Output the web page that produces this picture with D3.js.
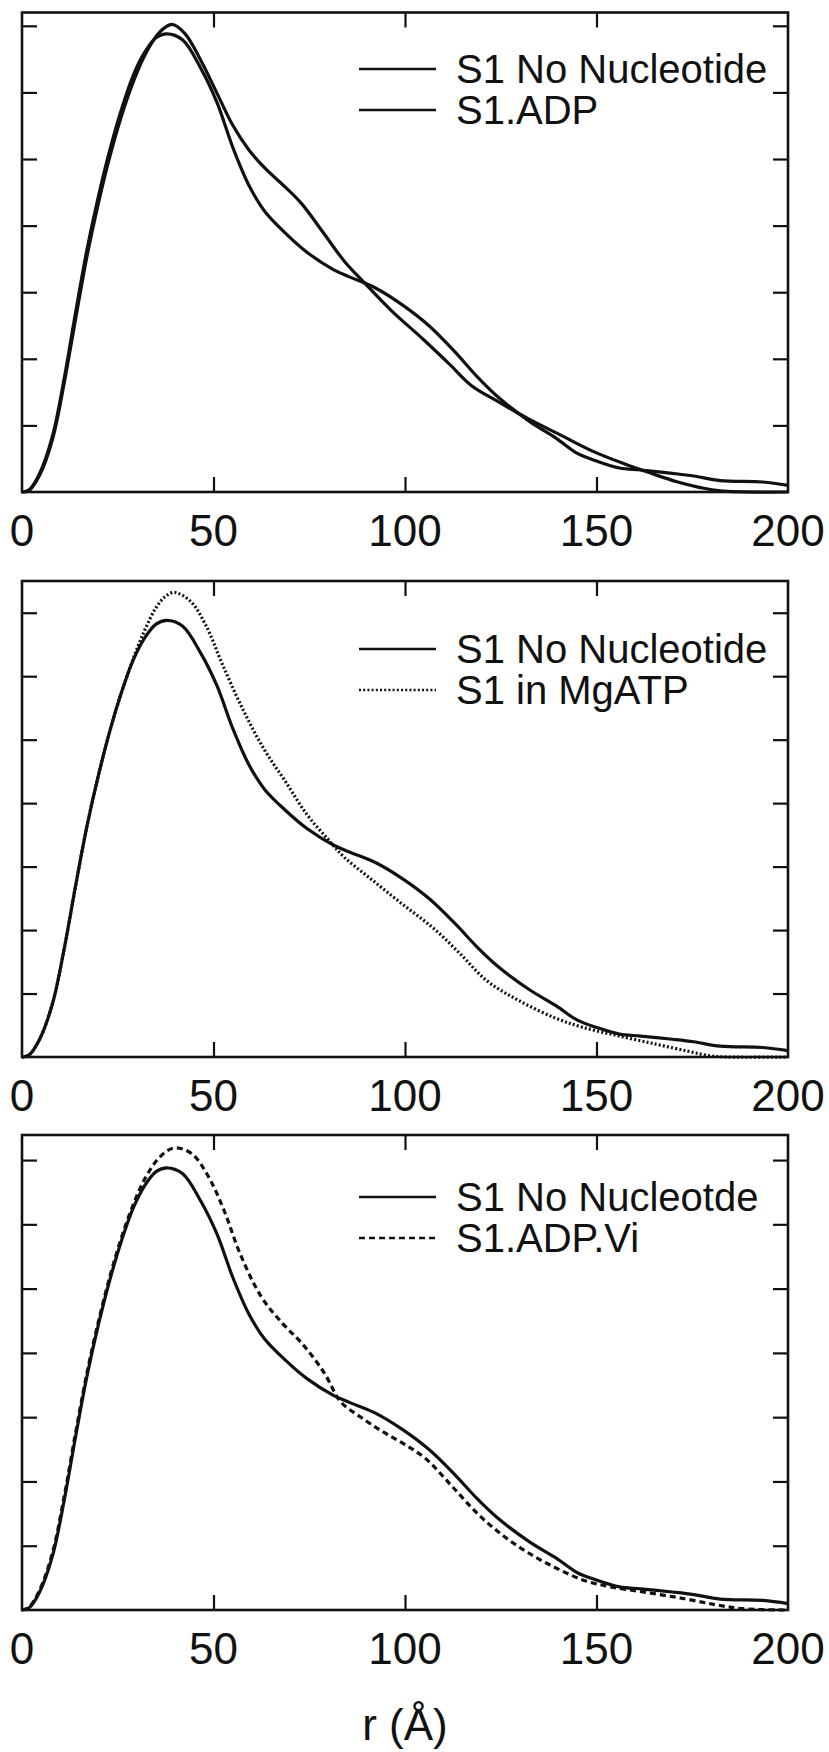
<!DOCTYPE html>
<html>
<head>
<meta charset="utf-8">
<script src="https://cdn.jsdelivr.net/npm/d3@7"></script>
<style>
  html, body { margin: 0; padding: 0; background: #fff; }
  svg text { font-family: Arial, "Liberation Sans", sans-serif; fill: #111; }
</style>
</head>
<body>
<svg id="chart" width="829" height="1752"></svg>
<script>
// pair distance distributions P(r), in units of the y tick spacing
var rNoNuc = [0, 1.8, 4.6, 8, 11, 14, 17, 20, 23, 26, 29, 32, 35, 37.8, 41.9, 46.7, 50.9, 55, 59.2, 63.3, 68.9, 74.4, 81.3, 85.5, 92.4, 99.3, 106.2, 113.1, 118.7, 124.2, 132.5, 139.4, 145, 149.8, 156, 161.5, 169.8, 175.4, 182.3, 193.4, 200];
var pNoNuc = [0, 0.03, 0.28, 0.85, 1.7, 2.7, 3.65, 4.45, 5.15, 5.75, 6.25, 6.6, 6.82, 6.88, 6.79, 6.36, 5.85, 5.18, 4.61, 4.22, 3.88, 3.60, 3.34, 3.23, 3.06, 2.81, 2.50, 2.10, 1.74, 1.43, 1.06, 0.81, 0.58, 0.47, 0.36, 0.33, 0.28, 0.24, 0.17, 0.15, 0.10];

var rAdp = [0, 1.8, 4.6, 8, 11, 14, 17, 20, 23, 26, 29, 32, 35, 37.2, 39.3, 42.6, 46.7, 50.9, 55, 59.2, 63.3, 68.9, 73, 78.6, 84.1, 89.6, 96.5, 104.8, 111.6, 117.3, 124.2, 132.5, 140.8, 149.1, 157.4, 164.3, 171.2, 176.8, 182.3, 200];
var pAdp = [0, 0.02, 0.25, 0.8, 1.63, 2.6, 3.55, 4.35, 5.05, 5.65, 6.15, 6.55, 6.84, 6.97, 7.02, 6.88, 6.48, 5.99, 5.51, 5.14, 4.87, 4.57, 4.33, 3.90, 3.47, 3.13, 2.72, 2.29, 1.92, 1.60, 1.36, 1.09, 0.85, 0.61, 0.42, 0.28, 0.15, 0.07, 0.016, 0];

var rAtp = [0, 1.8, 4.6, 8, 11, 14, 17, 20, 23, 26, 29, 32, 35, 37.5, 39.8, 44, 48.1, 52.3, 57.8, 63.3, 68.9, 74.4, 79.9, 84.1, 91, 99.3, 107.6, 114.5, 121.4, 129.7, 139.4, 146.3, 156, 165.7, 174, 179.5, 184, 200];
var pAtp = [0, 0.03, 0.28, 0.85, 1.7, 2.7, 3.65, 4.45, 5.15, 5.75, 6.27, 6.72, 7.08, 7.26, 7.32, 7.18, 6.79, 6.19, 5.46, 4.84, 4.33, 3.82, 3.43, 3.15, 2.81, 2.41, 2.02, 1.62, 1.20, 0.89, 0.61, 0.47, 0.33, 0.20, 0.09, 0.02, 0, 0];

var rVi = [0, 1.8, 4.6, 8, 11, 14, 17, 20, 23, 26, 29, 32, 35, 37.8, 40.4, 44.5, 48.7, 52.8, 56.9, 62.5, 68, 73.5, 79, 83.2, 88.7, 94.3, 99.8, 105.3, 112.2, 119.1, 126, 133, 139.9, 146.8, 153.7, 163.4, 173, 181.3, 188.2, 200];
var pVi = [0, 0.04, 0.31, 0.9, 1.76, 2.76, 3.7, 4.5, 5.2, 5.8, 6.3, 6.7, 6.98, 7.14, 7.19, 7.09, 6.74, 6.21, 5.55, 4.87, 4.46, 4.12, 3.68, 3.24, 2.99, 2.77, 2.58, 2.36, 1.93, 1.49, 1.14, 0.86, 0.64, 0.46, 0.36, 0.27, 0.175, 0.08, 0.02, 0];

var xTicks = [0, 50, 100, 150, 200];
var yTicks = [1, 2, 3, 4, 5, 6, 7];
var legendNames = [
  ["S1 No Nucleotide", "S1.ADP"],
  ["S1 No Nucleotide", "S1 in MgATP"],
  ["S1 No Nucleotde", "S1.ADP.Vi"]
];
var xLabel = "r (\u00C5)";

function zip(rs, ps) {
  return rs.map(function(r, i) { return { r: r, p: ps[i] }; });
}

// layout of the three stacked panels
var panels = [
  { top: 12.5, bottom: 492, yMax: 7.2, legendY: 69,
    series: [{ d: zip(rNoNuc, pNoNuc), dash: null }, { d: zip(rAdp, pAdp), dash: null }] },
  { top: 581, bottom: 1057, yMax: 7.5, legendY: 649,
    series: [{ d: zip(rNoNuc, pNoNuc), dash: null }, { d: zip(rAtp, pAtp), dash: "2,2.2" }] },
  { top: 1135, bottom: 1610, yMax: 7.39, legendY: 1197,
    series: [{ d: zip(rNoNuc, pNoNuc), dash: null }, { d: zip(rVi, pVi), dash: "6,4" }] }
];

var svg = d3.select("#chart");
svg.append("rect").attr("width", 829).attr("height", 1752).attr("fill", "#fff");

var x = d3.scaleLinear().domain([0, 200]).range([22, 788]);
var tickLen = 15;

panels.forEach(function(panel, pi) {
  var y = d3.scaleLinear().domain([0, panel.yMax]).range([panel.bottom, panel.top]);
  var g = svg.append("g");

  // inward ticks on all four sides
  g.append("g").attr("transform", "translate(0," + panel.bottom + ")")
    .call(d3.axisTop(x).tickValues([50, 100, 150]).tickSize(tickLen).tickFormat(""));
  g.append("g").attr("transform", "translate(0," + panel.top + ")")
    .call(d3.axisBottom(x).tickValues([50, 100, 150]).tickSize(tickLen).tickFormat(""));
  g.append("g").attr("transform", "translate(" + x(0) + ",0)")
    .call(d3.axisRight(y).tickValues(yTicks).tickSize(tickLen).tickFormat(""));
  g.append("g").attr("transform", "translate(" + x(200) + ",0)")
    .call(d3.axisLeft(y).tickValues(yTicks).tickSize(tickLen).tickFormat(""));
  g.selectAll(".domain").remove();
  g.selectAll(".tick line").attr("stroke", "#111").attr("stroke-width", 2.2);

  // frame
  g.append("rect")
    .attr("x", x(0)).attr("y", panel.top)
    .attr("width", x(200) - x(0)).attr("height", panel.bottom - panel.top)
    .attr("fill", "none").attr("stroke", "#111").attr("stroke-width", 2.6);

  // x tick labels
  g.selectAll(".xl").data(xTicks).enter().append("text")
    .attr("x", function(d) { return x(d); })
    .attr("y", panel.bottom + 54)
    .attr("text-anchor", "middle")
    .attr("font-size", 44)
    .text(function(d) { return d; });

  var line = d3.line()
    .x(function(d) { return x(d.r); })
    .y(function(d) { return y(d.p); })
    .curve(d3.curveCatmullRom.alpha(0.5));

  panel.series.forEach(function(s) {
    g.append("path")
      .datum(s.d)
      .attr("d", line)
      .attr("fill", "none")
      .attr("stroke", "#111")
      .attr("stroke-width", 3.2)
      .attr("stroke-dasharray", s.dash);
  });

  // legend
  panel.series.forEach(function(s, i) {
    var ly = panel.legendY + i * 41;
    g.append("line")
      .attr("x1", 359).attr("x2", 436)
      .attr("y1", ly).attr("y2", ly)
      .attr("stroke", "#111").attr("stroke-width", 2.6)
      .attr("stroke-dasharray", s.dash);
    g.append("text")
      .attr("x", 456).attr("y", ly + 14)
      .attr("font-size", 40)
      .text(legendNames[pi][i]);
  });
});

svg.append("text")
  .attr("x", 405).attr("y", 1740)
  .attr("text-anchor", "middle")
  .attr("font-size", 44)
  .text(xLabel);
</script>
</body>
</html>
